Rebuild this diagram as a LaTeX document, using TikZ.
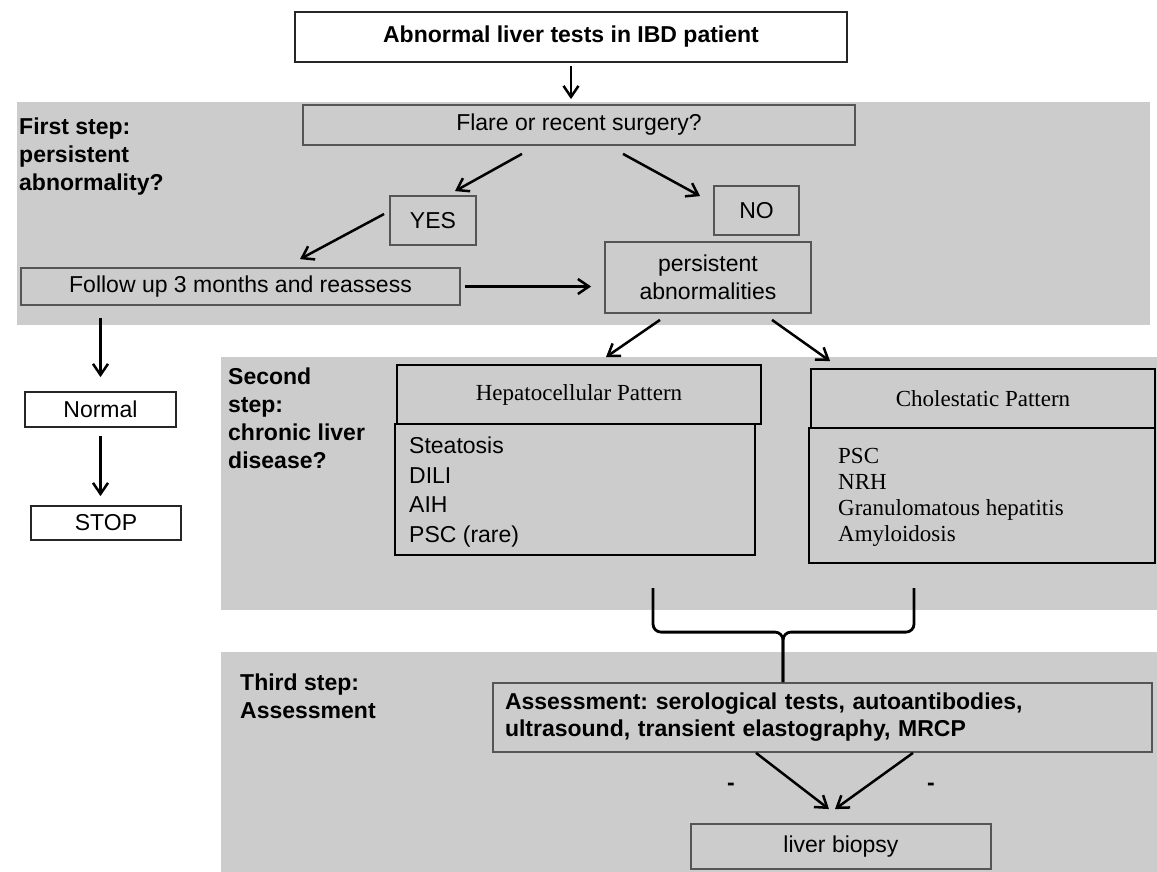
\documentclass[tikz,border=0pt]{standalone}
\usepackage{fontspec}
\setmainfont{Liberation Sans}
\newfontfamily\serifface{Liberation Serif}
\usetikzlibrary{arrows.meta,calc}
\definecolor{bandgray}{RGB}{204,204,204}
\definecolor{boxline}{RGB}{85,85,85}
\begin{document}
\frenchspacing
\begin{tikzpicture}[x=1pt,y=-1pt,
  every node/.style={font=\fontsize{23}{28}\selectfont, inner sep=0pt},
  gbox/.style={draw=boxline, line width=1.8pt, rectangle},
  wbox/.style={draw=black!85, fill=white, line width=1.8pt, rectangle},
  kbox/.style={draw=black, line width=1.8pt, rectangle},
  arr/.style={-{Straight Barb[length=11pt,width=15pt,line width=2.5pt]}, line width=2.5pt, black},
  lbl/.style={font=\fontsize{23}{28}\selectfont\bfseries, align=left, anchor=north west},
  sf/.style={font=\serifface\fontsize{23}{26}\selectfont},
]
\useasboundingbox (0,0) rectangle (1157,872);
\fill[white] (0,0) rectangle (1157,872);
\fill[bandgray] (17,102) rectangle (1150,325);
\fill[bandgray] (221,357) rectangle (1157,610);
\fill[bandgray] (221,652) rectangle (1157,872);

% step labels
\node[lbl] (s1) at (19,118) {First step:\\persistent\\abnormality?};
\node[lbl] (s2) at (228,368) {Second\\step:\\chronic liver\\disease?};
\node[lbl] (s3) at (240,674) {Third step:\\Assessment};

% first step
\node[wbox, minimum width=552pt, minimum height=50pt, font=\fontsize{23}{28}\selectfont\bfseries] (top) at (571,37) {Abnormal liver tests in IBD patient};
\node[gbox, minimum width=552pt, minimum height=40pt] (flare) at (579,125) {Flare or recent surgery?};
\node[gbox, minimum width=86pt, minimum height=49pt] (yes) at (433,220.5) {YES};
\node[gbox, minimum width=85pt, minimum height=49pt] (no) at (756.5,210.5) {NO};
\node[gbox, minimum width=439pt, minimum height=37pt] (follow) at (240.5,286.5) {Follow up 3 months and reassess};
\node[gbox, minimum width=206pt, minimum height=71pt, align=center] (persist) at (708,277.5) {persistent\\abnormalities};
\node[wbox, minimum width=151pt, minimum height=35pt] (normal) at (100.5,409.5) {Normal};
\node[wbox, minimum width=150pt, minimum height=34pt] (stop) at (106,523) {STOP};

% second step
\node[kbox, minimum width=364pt, minimum height=59pt, sf] (hepH) at (579,394.5) {Hepatocellular Pattern};
\node[kbox, minimum width=360pt, minimum height=131pt] (hepL) at (575,489.5) {};
\node[anchor=north west, align=left, font=\fontsize{23}{29.5}\selectfont] (hepItems) at (409,437) {Steatosis\\DILI\\AIH\\PSC (rare)};
\node[kbox, minimum width=344pt, minimum height=59pt, sf] (cholH) at (983,398.5) {Cholestatic Pattern};
\node[kbox, minimum width=346pt, minimum height=135pt] (cholL) at (982,495.5) {};
\node[anchor=north west, align=left, sf] (cholItems) at (838,448) {PSC\\NRH\\Granulomatous hepatitis\\Amyloidosis};

% third step
\node[gbox, text width=635pt, inner xsep=12pt, minimum height=69pt, align=left, font=\fontsize{23}{27}\selectfont\bfseries] (assess) at (822.5,717.5) {Assessment: serological tests, autoantibodies,\\ultrasound, transient elastography, MRCP};
\node[gbox, minimum width=300pt, minimum height=45pt] (biopsy) at (841,846.5) {liver biopsy};
\node[font=\fontsize{23}{28}\selectfont\bfseries] (d1) at (731,787) {-};
\node[font=\fontsize{23}{28}\selectfont\bfseries] (d2) at (931,787) {-};

% connectors
\draw[arr, line width=1.8pt] ($(top.south)+(0,3)$) -- ($(top.south |- flare.north)+(0,-5)$);
\draw[arr] ($(flare.south)+(-57,8)$) -- ($(yes.north)+(22,-4)$);
\draw[arr] ($(flare.south)+(44,8)$) -- ($(no.north west)+(-13,11)$);
\draw[arr] ($(yes.west)+(-5,-6.5)$) -- ($(follow.north)+(59.5,-8)$);
\draw[arr] ($(follow.east)+(4,0)$) -- ($(follow.east -| persist.west)+(-13,0)$);
\draw[arr] ($(normal.north |- follow.south)+(0,12)$) -- ($(normal.north)+(0,-14)$);
\draw[arr] ($(normal.south)+(0,8)$) -- ($(normal.south |- stop.north)+(0,-9)$);
\draw[arr] ($(persist.south)+(-48,6)$) -- ($(hepH.north)+(27,-7)$);
\draw[arr] ($(persist.south)+(64,6)$) -- ($(cholH.north west)+(20,-7)$);

% brace
\coordinate (bl) at (653,588);
\coordinate (br) at (914,588);
\coordinate (bm) at ($(assess.north)+(-39.5,0)$);
\coordinate (bj) at ($(bm)+(0,-50)$);
\draw[line width=2.8pt, rounded corners=8pt] (bl) |- (bj) -- (bm);
\draw[line width=2.8pt, rounded corners=8pt] (br) |- (bj) -- (bm);

\draw[arr] ($(assess.south)+(-66.5,0)$) -- ($(biopsy.north)+(-12,-14)$);
\draw[arr] ($(assess.south)+(90.5,0)$) -- ($(biopsy.north)+(-6,-14)$);
\end{tikzpicture}
\end{document}
